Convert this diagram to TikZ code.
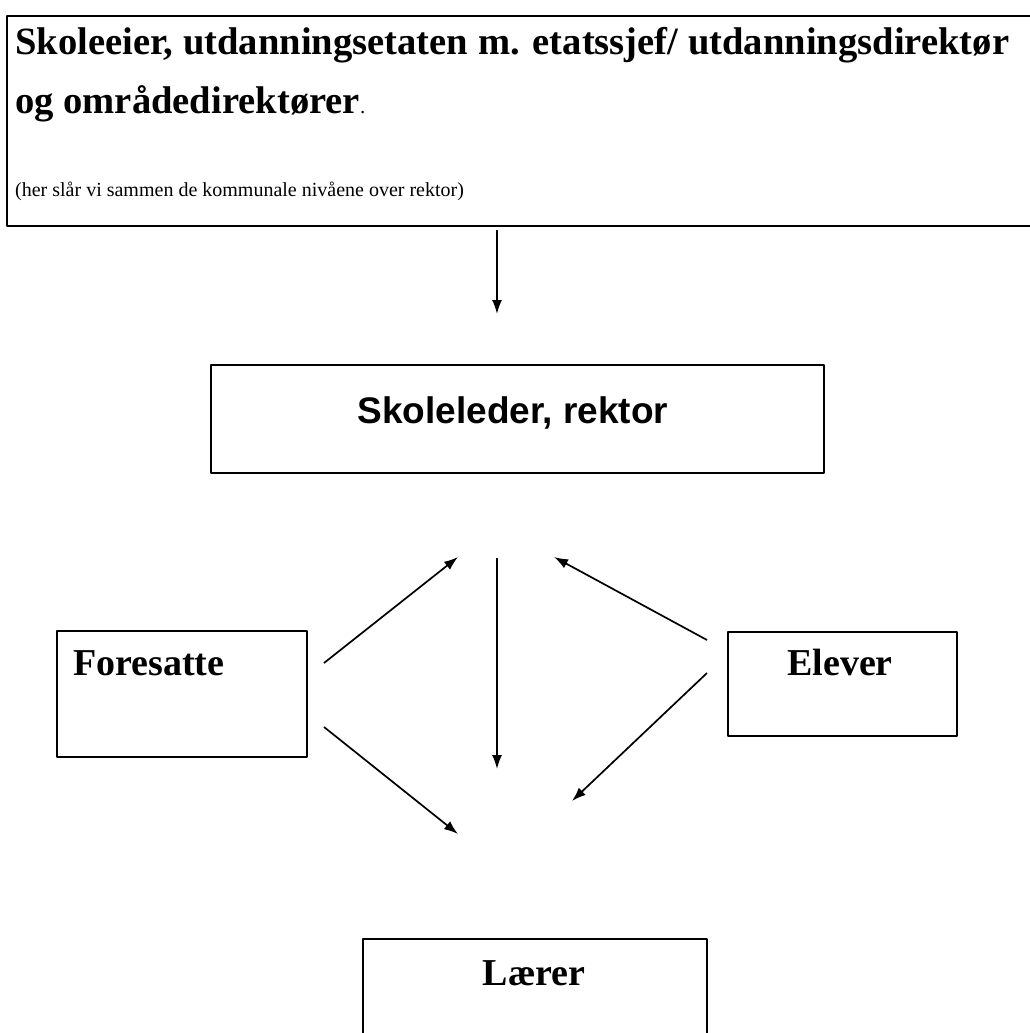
\documentclass[tikz,border=0pt]{standalone}
\usepackage{fontspec}
\setmainfont{Liberation Serif}
\newfontfamily\arialfont{Liberation Sans}
\usetikzlibrary{arrows.meta}
\tikzset{>={Latex[length=14pt,width=10pt]}}

\begin{document}
\begin{tikzpicture}[x=1pt,y=-1pt,line join = round,
    boks/.style={draw,line width=2pt,inner sep=0pt,anchor=north west},
    tekst/.style={inner sep=0pt,font=\fontsize{38}{38}\selectfont\bfseries},
    pil/.style={->,line width=1.7pt}]
    \useasboundingbox[fill=white] (0,0) rectangle (1030,1033);
    % boksene
    \node[boks,minimum width=1034pt,minimum height=210pt] (eier) at (6,15) {};
    \node[boks,minimum width=613pt,minimum height=108pt] (leder) at (210,364) {};
    \node[boks,minimum width=250pt,minimum height=126pt] (foresatte) at (56,630) {};
    \node[boks,minimum width=229pt,minimum height=104pt] (elever) at (727,631) {};
    \node[boks,minimum width=344pt,minimum height=130pt] (laerer) at (362,938) {};
    % tekstene
    \node[tekst,anchor=base west,font=\fontsize{38.6}{38}\selectfont\bfseries] (eier-1) at (15,55) {Skoleeier, utdanningsetaten m. etatssjef/ utdanningsdirektør};
    \node[tekst,anchor=base west,font=\fontsize{38.6}{38}\selectfont\bfseries] (eier-2) at (15,113) {og områdedirektører{\mdseries\fontsize{21}{21}\selectfont.}};
    \node[inner sep=0pt,anchor=base west,font=\fontsize{20}{20}\selectfont] (eier-3) at (15,196) {(her slår vi sammen de kommunale nivåene over rektor)};
    \node[inner sep=0pt,anchor=base,font=\arialfont\fontsize{37}{37}\selectfont\bfseries] (leder-t) at (513,423) {Skoleleder, rektor};
    \node[tekst,anchor=base west] (foresatte-t) at (73,675) {Foresatte};
    \node[tekst,anchor=base] (elever-t) at (840,675) {Elever};
    \node[tekst,anchor=base] (laerer-t) at (534,985) {Lærer};
    % pilene
    \coordinate (ned-1) at (497,314);
    \coordinate (midt-topp) at (497,558);
    \coordinate (midt-bunn) at (497,769);
    \coordinate (v-opp) at (324,663);
    \coordinate (v-opp-ende) at (458,557);
    \coordinate (v-ned) at (324,727);
    \coordinate (v-ned-ende) at (458,834);
    \coordinate (h-opp) at (707,640);
    \coordinate (h-opp-ende) at (554,557);
    \coordinate (h-ned) at (707,673);
    \coordinate (h-ned-ende) at (572,801);
    \draw[pil,shorten <=3pt] (eier.south -| ned-1) -- (ned-1);
    \draw[pil] (midt-topp) -- (midt-bunn);
    \draw[pil] (v-opp) -- (v-opp-ende);
    \draw[pil] (v-ned) -- (v-ned-ende);
    \draw[pil] (h-opp) -- (h-opp-ende);
    \draw[pil] (h-ned) -- (h-ned-ende);
\end{tikzpicture}
\end{document}
